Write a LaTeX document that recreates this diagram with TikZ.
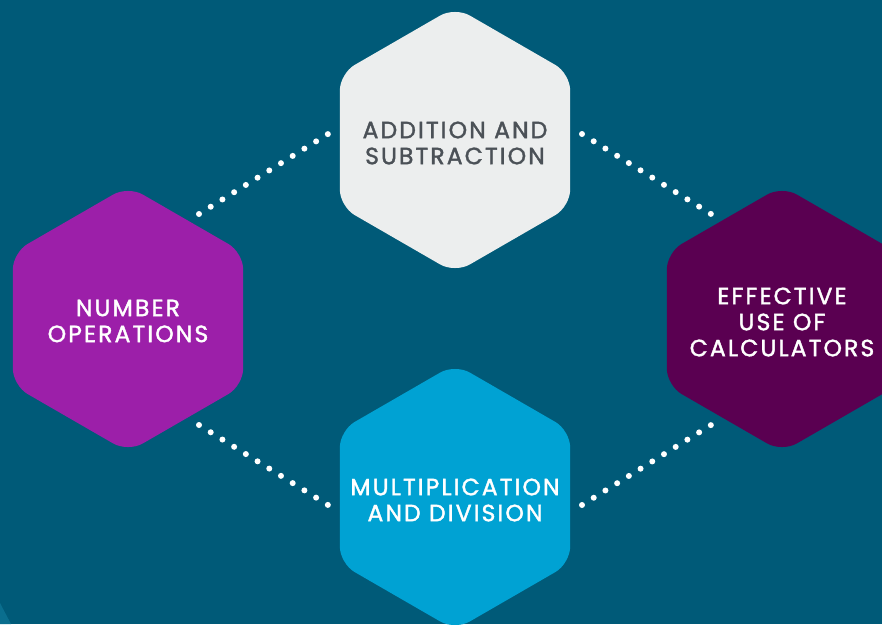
\documentclass[tikz,border=0pt]{standalone}
\usepackage{fontspec}
\setmainfont{Poppins}
\newfontfamily\lblfont{Poppins}[FakeBold=1.6, LetterSpace=9]
\definecolor{bgc}{HTML}{005A78}
\definecolor{cornerc}{HTML}{0A6E8E}
\definecolor{lightc}{HTML}{ECEEEE}
\definecolor{purplec}{HTML}{9C1FA9}
\definecolor{plumc}{HTML}{5A0051}
\definecolor{bluec}{HTML}{00A2D3}
\definecolor{grayc}{HTML}{4B5157}
\tikzset{
  hexshape/.style={rounded corners=17pt},
  lbl/.style={align=center, font=\lblfont\fontsize{23.5}{26}\selectfont, inner sep=0pt},
  dotline/.style={white, line width=6pt, line cap=round, dash pattern=on 0pt off 13.78pt},
}
\def\hexR{133}
\newcommand\myhexagon[3]{%
  \fill[hexshape, fill=#3, shift={(#1,#2)}] (90:\hexR) -- (150:\hexR) -- (210:\hexR) -- (270:\hexR) -- (330:\hexR) -- (30:\hexR) -- cycle;}
\begin{document}
\begin{tikzpicture}[x=1pt,y=-1pt]
\fill[bgc] (0,0) rectangle (882,624);
\useasboundingbox (0,0) rectangle (882,624);
\fill[cornerc] (0,603) -- (11,624) -- (0,624) -- cycle;
% hexagons
\myhexagon{455}{140}{lightc}
\myhexagon{128}{319}{purplec}
\myhexagon{782}{319}{plumc}
\myhexagon{455}{497}{bluec}
% labels
\node[lbl, text=grayc] (add) at (455,143) {ADDITION AND\\SUBTRACTION};
\node[lbl, text=white] (num) at (128,321) {NUMBER\\OPERATIONS};
\node[lbl, text=white] (calc) at (782,322) {EFFECTIVE\\USE OF\\CALCULATORS};
\node[lbl, text=white] (mult) at (455,500) {MULTIPLICATION\\AND DIVISION};
% connector ends
\coordinate (n1) at (199,214);
\coordinate (a1) at (328,134);
\coordinate (a2) at (582,134);
\coordinate (c1) at (711,214);
\coordinate (n2) at (199,425);
\coordinate (m1) at (328,505);
\coordinate (m2) at (582,505);
\coordinate (c2) at (711,425);
\draw[dotline] (n1) -- (a1);
\draw[dotline] (a2) -- (c1);
\draw[dotline] (n2) -- (m1);
\draw[dotline] (m2) -- (c2);
\end{tikzpicture}
\end{document}
